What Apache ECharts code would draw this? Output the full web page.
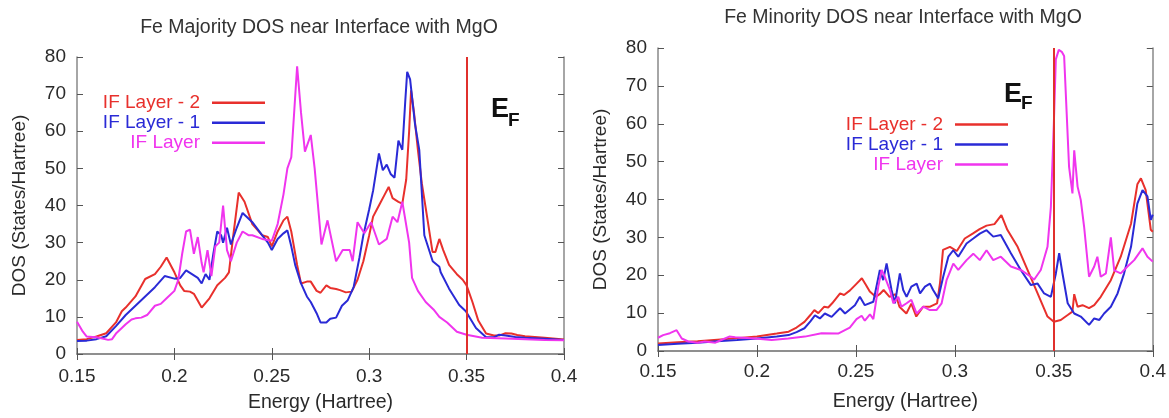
<!DOCTYPE html>
<html><head><meta charset="utf-8">
<script src="https://cdn.jsdelivr.net/npm/echarts@6/dist/echarts.min.js"></script>
<style>html,body{margin:0;padding:0;background:#fff}#c{width:1169px;height:418px}</style>
</head><body><div id="c"></div>
<script>
// ---------- data ----------
const seriesNames = ['IF Layer - 2', 'IF Layer - 1', 'IF Layer'];
const chartTitles = ['Fe Majority DOS near Interface with MgO', 'Fe Minority DOS near Interface with MgO'];
const xAxisName = 'Energy (Hartree)';
const yAxisName = 'DOS (States/Hartree)';
const energyMin = 0.15, energyMax = 0.4, energyStep = 0.05;
const dosMin = 0, dosMax = 80, dosStep = 10;
const fermiEnergy = 0.35;
const fermiLabel = ['E', 'F'];

// Majority spin: [energy (Hartree), DOS]
const majLayer2 = [[0.15,3.8],[0.155,4.0],[0.16,4.7],[0.165,5.6],[0.17,8.5],[0.173,11.5],[0.175,12.5],[0.18,15.5],[0.185,20.2],[0.19,21.5],[0.193,23.5],[0.196,26],[0.2,22],[0.203,18.5],[0.205,17],[0.208,16.8],[0.21,16.2],[0.214,12.5],[0.218,15],[0.222,18.5],[0.226,20.5],[0.228,22],[0.23,31],[0.233,43.5],[0.236,41],[0.24,35],[0.245,32],[0.248,31.5],[0.25,29],[0.253,33],[0.256,36],[0.258,37],[0.26,33],[0.263,24],[0.265,19],[0.268,19.5],[0.27,19.5],[0.273,17],[0.275,16.5],[0.278,18.5],[0.28,17.8],[0.283,17.5],[0.285,17.2],[0.288,16.6],[0.291,16.8],[0.294,20],[0.297,25],[0.3,32],[0.302,37],[0.305,40],[0.308,43],[0.31,45],[0.312,42],[0.315,41],[0.317,40.5],[0.319,47],[0.3205,60],[0.3215,71],[0.323,65],[0.325,55],[0.327,46],[0.33,36],[0.3325,27.5],[0.334,27.5],[0.336,31],[0.338,28],[0.341,24],[0.345,21.5],[0.348,20],[0.35,18.5],[0.353,14],[0.356,9],[0.36,5.5],[0.364,5],[0.367,5],[0.37,5.6],[0.373,5.5],[0.376,5.1],[0.38,4.8],[0.39,4.4],[0.4,3.9]];
const majLayer1 = [[0.15,3.5],[0.155,3.6],[0.16,4.0],[0.165,4.8],[0.17,7.5],[0.175,10.5],[0.18,13],[0.185,15.5],[0.19,18],[0.195,21],[0.2,20.3],[0.203,20.5],[0.206,22.5],[0.209,21.5],[0.212,20.5],[0.214,19],[0.216,21.5],[0.218,20],[0.22,27],[0.222,33],[0.224,32],[0.225,30],[0.227,34],[0.229,29.5],[0.232,34],[0.235,38],[0.238,36.5],[0.24,35.5],[0.245,32],[0.248,30],[0.25,28],[0.253,31],[0.256,32.5],[0.258,33.3],[0.26,29],[0.262,24],[0.265,19],[0.268,15.5],[0.27,14],[0.273,11],[0.275,8.5],[0.278,8.5],[0.28,9.5],[0.283,9.8],[0.286,13],[0.289,14.5],[0.292,18],[0.295,26],[0.297,32],[0.3,39],[0.302,44],[0.305,54],[0.307,49.5],[0.309,51],[0.311,48.5],[0.313,47.5],[0.315,57.5],[0.317,55],[0.3185,68],[0.3195,76],[0.321,74],[0.3235,62],[0.3257,55],[0.3283,32],[0.3326,25],[0.336,23.5],[0.3367,22],[0.341,17.6],[0.3462,13.2],[0.3496,11.5],[0.3548,7],[0.36,4.5],[0.364,4.5],[0.3667,5.2],[0.37,5],[0.375,4.6],[0.38,4.4],[0.39,4.1],[0.4,3.8]];
const majLayer0 = [[0.15,8.7],[0.153,6],[0.155,4.7],[0.158,4.6],[0.16,4.5],[0.163,4.2],[0.166,3.8],[0.168,4.0],[0.17,5.5],[0.173,7],[0.175,8],[0.178,9.3],[0.18,9.6],[0.183,9.8],[0.186,10.5],[0.19,13],[0.193,13.5],[0.196,15],[0.2,17],[0.202,20],[0.204,27],[0.206,33],[0.208,33.5],[0.21,27],[0.212,31.5],[0.214,24.5],[0.215,22],[0.217,28],[0.219,21],[0.221,29],[0.223,30],[0.225,40],[0.227,28],[0.229,25],[0.232,30],[0.235,33],[0.238,32],[0.24,32],[0.245,31],[0.25,30.5],[0.253,35],[0.256,43],[0.258,50],[0.26,53],[0.263,77.5],[0.265,65],[0.267,54.5],[0.27,59],[0.272,50],[0.2755,29.5],[0.2786,36],[0.283,25],[0.2864,28],[0.29,28],[0.2915,25],[0.294,35.5],[0.2975,32.5],[0.301,35.5],[0.305,29.5],[0.309,31],[0.312,37],[0.3145,35.5],[0.317,41],[0.3205,30],[0.322,20.5],[0.325,17],[0.329,14],[0.333,12],[0.336,10],[0.34,8.5],[0.345,6],[0.35,5.2],[0.358,4.4],[0.37,4.2],[0.38,4.0],[0.39,3.8],[0.4,3.7]];

// Minority spin: [energy (Hartree), DOS]
const minLayer2 = [[0.15,2.0],[0.16,2.3],[0.17,2.6],[0.18,3.0],[0.19,3.4],[0.2,3.8],[0.205,4.2],[0.21,4.6],[0.216,5.1],[0.22,6.2],[0.224,7.7],[0.227,9.5],[0.229,10.8],[0.231,10],[0.234,11.7],[0.236,11.5],[0.238,12.6],[0.242,15.2],[0.244,14.8],[0.247,16],[0.25,17.6],[0.253,19.2],[0.255,17.5],[0.257,15.7],[0.26,14.3],[0.262,15],[0.264,16.1],[0.267,14.3],[0.27,15],[0.272,11.7],[0.2755,9.9],[0.278,12.5],[0.2805,9.1],[0.284,11.7],[0.2875,11.7],[0.291,12.6],[0.2925,18],[0.294,26.7],[0.2975,27.5],[0.301,26.4],[0.305,29.7],[0.309,31],[0.3125,32.2],[0.316,33.1],[0.32,33.5],[0.3235,35.9],[0.3265,32],[0.3317,27.5],[0.3367,21.4],[0.3418,15.2],[0.3468,9.1],[0.35,7.7],[0.3535,8.2],[0.357,9.5],[0.3594,10.4],[0.3603,15],[0.362,11.7],[0.3645,12.1],[0.3678,11.3],[0.3704,12.1],[0.3737,14.3],[0.3788,18.7],[0.3838,24.9],[0.389,33.6],[0.3922,44],[0.394,45.6],[0.3964,42.5],[0.399,32],[0.4,31.5]];
const minLayer1 = [[0.15,1.6],[0.16,1.9],[0.17,2.2],[0.18,2.6],[0.19,2.9],[0.2,3.3],[0.21,3.8],[0.216,4.2],[0.22,5],[0.224,6],[0.227,7.8],[0.2293,9.4],[0.2318,8.6],[0.2343,9.9],[0.2377,9],[0.242,11.3],[0.2445,9.9],[0.2495,12.1],[0.252,14.3],[0.2545,12.1],[0.2588,13],[0.2621,21.4],[0.2638,18.7],[0.2655,23.1],[0.268,16.1],[0.2697,12.6],[0.2722,20.5],[0.2739,16.1],[0.2756,14.3],[0.278,17],[0.2807,17.8],[0.2824,15.2],[0.2849,17],[0.2874,17.8],[0.289,16.1],[0.2916,13.9],[0.2941,19.6],[0.2967,24.9],[0.2992,26.6],[0.3017,24.9],[0.3059,28.4],[0.3093,29.7],[0.3126,31],[0.316,31.9],[0.3194,30.2],[0.3232,30.6],[0.3283,25.8],[0.3333,21.4],[0.3384,17.4],[0.3418,17.8],[0.3451,15.2],[0.3485,14.3],[0.351,20.4],[0.3527,25.8],[0.3544,20.4],[0.357,12.6],[0.3603,9.9],[0.3636,9.1],[0.3678,6.9],[0.3704,8.6],[0.373,8.2],[0.3754,9.9],[0.3788,11.7],[0.3822,15.2],[0.3855,20.5],[0.389,27.5],[0.3922,38.9],[0.3948,42.5],[0.3973,40.8],[0.399,34.6],[0.4,36]];
const minLayer0 = [[0.15,3.5],[0.1526,4.2],[0.156,4.7],[0.1594,5.5],[0.162,3.3],[0.1653,2.5],[0.17,2.2],[0.1737,2.5],[0.179,2.2],[0.182,2.9],[0.186,3.8],[0.189,3.6],[0.199,3.3],[0.2074,2.9],[0.2158,3.3],[0.2242,3.8],[0.2326,4.7],[0.241,4.6],[0.2469,6.2],[0.2503,8.4],[0.2529,9.3],[0.2545,8],[0.2571,9.7],[0.2588,8.4],[0.2613,17],[0.263,21.4],[0.2646,19.6],[0.2672,16.1],[0.2689,12.6],[0.2714,14.3],[0.273,11.7],[0.2756,12.6],[0.278,13.5],[0.2807,9.9],[0.284,11.7],[0.2874,10.8],[0.2907,10.8],[0.2933,12.6],[0.2958,18.7],[0.2992,23.1],[0.3017,21.4],[0.3059,24],[0.3093,25.7],[0.3126,24],[0.316,26.6],[0.3194,24],[0.3232,24.9],[0.3283,22.3],[0.3333,21.4],[0.3384,19.6],[0.34,18.8],[0.3434,21.4],[0.3468,27.5],[0.3485,38],[0.35,60],[0.351,77],[0.3525,79.5],[0.354,79],[0.3552,77.9],[0.3577,48.6],[0.3594,41.6],[0.3603,53],[0.362,43.4],[0.3636,39.9],[0.3653,32.8],[0.3678,19.6],[0.3704,22.3],[0.372,24.9],[0.3737,19.6],[0.3763,20.5],[0.3788,30],[0.3805,21.3],[0.3838,20.5],[0.3872,22.3],[0.3906,24],[0.3948,27.1],[0.3973,24.9],[0.4,23.6]];

// ---------- style ----------
const FONT = '"Liberation Sans", Arial, sans-serif';
const COLORS = ['#e8302c', '#2a2ad6', '#f035ee'];
const FERMI_COLOR = '#e0302c';
const AXIS_COLOR = '#888';
const TEXT_COLOR = '#2a2a2a';

const grids = [
  {left: 77, top: 57, width: 487, height: 299},
  {left: 658, top: 48, width: 495, height: 303}
];

function xAxes(gi, nameGap, labelMargin) {
  const base = {gridIndex: gi, type: 'value', min: energyMin, max: energyMax, interval: energyStep,
    axisLine: {show: true, lineStyle: {color: AXIS_COLOR, width: 1.5}},
    axisTick: {show: true, inside: true, length: 6, lineStyle: {color: '#555', width: 1}},
    splitLine: {show: false}};
  return [
    Object.assign({}, base, {position: 'bottom', name: xAxisName, nameLocation: 'middle', nameGap: nameGap,
      nameTextStyle: {fontSize: 19.5, fontFamily: FONT, color: TEXT_COLOR},
      axisLabel: {fontSize: 19, fontFamily: FONT, color: TEXT_COLOR, margin: labelMargin}}),
    Object.assign({}, base, {position: 'top', axisLabel: {show: false}})
  ];
}
function yAxes(gi, nameGap) {
  const base = {gridIndex: gi, type: 'value', min: dosMin, max: dosMax, interval: dosStep,
    axisLine: {show: true, lineStyle: {color: AXIS_COLOR, width: 1.5}},
    axisTick: {show: true, inside: true, length: 6, lineStyle: {color: '#555', width: 1}},
    splitLine: {show: false}};
  return [
    Object.assign({}, base, {position: 'left', name: yAxisName, nameLocation: 'middle', nameGap: nameGap,
      nameTextStyle: {fontSize: 19, fontFamily: FONT, color: TEXT_COLOR},
      axisLabel: {fontSize: 19, fontFamily: FONT, color: TEXT_COLOR, margin: 11}}),
    Object.assign({}, base, {position: 'right', axisLabel: {show: false}})
  ];
}

function lineSeries(name, data, colorIdx, xi, yi, withFermi) {
  const s = {name: name, type: 'line', data: data, xAxisIndex: xi, yAxisIndex: yi,
    showSymbol: false, symbol: 'none', color: COLORS[colorIdx],
    lineStyle: {color: COLORS[colorIdx], width: 2}, animation: false};
  if (withFermi) {
    s.markLine = {silent: true, symbol: 'none', animation: false, label: {show: false},
      lineStyle: {color: FERMI_COLOR, width: 2, type: 'solid'},
      data: [{xAxis: fermiEnergy}]};
  }
  return s;
}

function legendFor(right, top) {
  return {orient: 'vertical', align: 'right', right: right, top: top, padding: 0,
    itemWidth: 53, itemHeight: 2.5, itemGap: 0, icon: 'rect', selectedMode: false,
    textStyle: {fontSize: 19, fontFamily: FONT, lineHeight: 20, padding: [0, 7, 0, 0]},
    data: seriesNames.map((n, i) => ({name: n, textStyle: {color: COLORS[i]}}))};
}

function fermiText(x, yE, yF) {
  return [
    {type: 'text', style: {x: x, y: yE, text: fermiLabel[0], fontSize: 27, fontWeight: 'bold', fontFamily: FONT, fill: '#111', verticalAlign: 'middle'}},
    {type: 'text', style: {x: x + 17, y: yF, text: fermiLabel[1], fontSize: 19, fontWeight: 'bold', fontFamily: FONT, fill: '#111', verticalAlign: 'middle'}}
  ];
}

const option = {
  backgroundColor: '#ffffff',
  animation: false,
  title: [
    {text: chartTitles[0], left: 319, top: 18, textAlign: 'center', padding: 0,
      textStyle: {fontSize: 19.5, fontWeight: 'normal', fontFamily: FONT, color: '#333'}},
    {text: chartTitles[1], left: 903, top: 8, textAlign: 'center', padding: 0,
      textStyle: {fontSize: 19.5, fontWeight: 'normal', fontFamily: FONT, color: '#333'}}
  ],
  grid: grids,
  xAxis: xAxes(0, 39, 13).concat(xAxes(1, 41, 11)),
  yAxis: yAxes(0, 48).concat(yAxes(1, 48)),
  legend: [legendFor(904, 92.7), legendFor(161, 114.5)],
  series: [
    lineSeries(seriesNames[0], majLayer2, 0, 0, 0, false),
    lineSeries(seriesNames[1], majLayer1, 1, 0, 0, false),
    lineSeries(seriesNames[2], majLayer0, 2, 0, 0, true),
    lineSeries(seriesNames[0], minLayer2, 0, 2, 2, false),
    lineSeries(seriesNames[1], minLayer1, 1, 2, 2, false),
    lineSeries(seriesNames[2], minLayer0, 2, 2, 2, true)
  ],
  graphic: fermiText(491, 109.5, 121).concat(fermiText(1004, 94.5, 104))
};

const chart = echarts.init(document.getElementById('c'), null, {renderer: 'canvas'});
chart.setOption(option);
</script>
</body></html>
